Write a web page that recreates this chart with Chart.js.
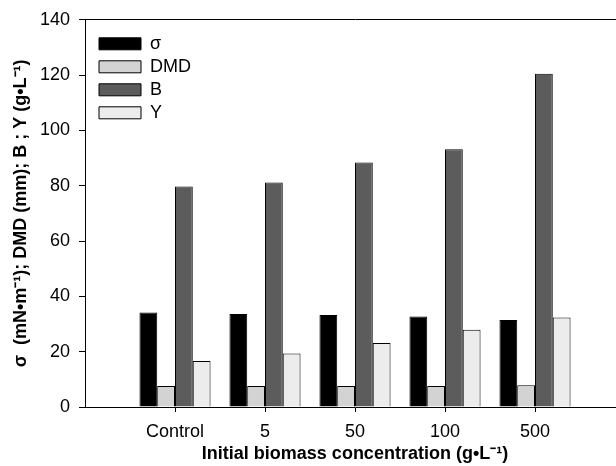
<!DOCTYPE html>
<html>
<head>
<meta charset="utf-8">
<script src="https://cdn.jsdelivr.net/npm/chart.js@4.4.1/dist/chart.umd.min.js"></script>
<style>
    body { margin: 0; background: #fff; }
    #wrap { width: 616px; height: 466px; overflow: hidden; }
</style>
</head>
<body>
<div id="wrap"><canvas id="grafico" width="640" height="466"></canvas></div>
<script>
var categorias = ['Control', '5', '50', '100', '500'];

var sigma = [34.2, 33.6, 33.3, 32.7, 31.5];
var dmd = [7.6, 7.6, 7.6, 7.6, 7.9];
var biomassa = [79.7, 81.2, 88.4, 93.2, 120.5];
var rendimento = [16.6, 19.3, 23.1, 27.9, 32.4];

var yMin = 0;
var yMax = 140;
var yPasso = 20;

// uma posicao vazia em cada ponta, o eixo passa do ultimo grupo
var rotulos = [''].concat(categorias, ['']);
function comVazios(valores) {
    return [null].concat(valores, [null]);
}

Chart.defaults.font.family = "'Liberation Sans', Arial, sans-serif";
Chart.defaults.color = '#000';

// empurra a legenda para dentro da area do grafico
var moveLegenda = {
    id: 'moveLegenda',
    afterLayout: function (chart) {
        var leg = chart.legend;
        var dx = chart.chartArea.left + 9 - leg.left;
        var dy = chart.chartArea.top + 10 - leg.top;
        leg.left += dx;
        leg.right += dx;
        leg.top += dy;
        leg.bottom += dy;
    }
};

var grafico = new Chart(document.getElementById('grafico'), {
    type: 'bar',
    data: {
        labels: rotulos,
        datasets: [{
            label: 'σ',
            data: comVazios(sigma),
            backgroundColor: '#000000',
            borderColor: '#000000',
            borderWidth: 1
        }, {
            label: 'DMD',
            data: comVazios(dmd),
            backgroundColor: '#d3d3d3',
            borderColor: '#000000',
            borderWidth: 1
        }, {
            label: 'B',
            data: comVazios(biomassa),
            backgroundColor: '#5c5c5c',
            borderColor: '#000000',
            borderWidth: 1
        }, {
            label: 'Y',
            data: comVazios(rendimento),
            backgroundColor: '#ececec',
            borderColor: '#000000',
            borderWidth: 1
        }]
    },
    options: {
        responsive: false,
        animation: false,
        categoryPercentage: 0.79,
        barPercentage: 1.0,
        layout: {
            padding: { left: 0, right: 15, top: 0, bottom: 0 }
        },
        scales: {
            x: {
                type: 'category',
                position: 'bottom',
                offset: false,
                grid: {
                    offset: false,
                    drawOnChartArea: false,
                    tickLength: 5,
                    tickColor: function (ctx) {
                        return ctx.tick && ctx.tick.label === '' ? 'rgba(0,0,0,0)' : '#000';
                    }
                },
                border: { color: '#000', width: 1 },
                ticks: {
                    autoSkip: false,
                    maxRotation: 0,
                    padding: 9,
                    font: { size: 18 }
                },
                title: {
                    display: true,
                    text: 'Initial biomass concentration (g•L⁻¹)',
                    font: { size: 18, weight: 'bold' },
                    padding: { top: 0, bottom: 1 }
                },
                afterFit: function (scale) {
                    scale.height = 59;
                }
            },
            x2: {
                type: 'category',
                position: 'top',
                offset: false,
                grid: {
                    offset: false,
                    drawOnChartArea: false,
                    drawTicks: false
                },
                border: { display: true, color: '#000', width: 1 },
                ticks: { display: false },
                afterFit: function (scale) {
                    scale.height = 17;
                }
            },
            y: {
                min: yMin,
                max: yMax,
                grid: {
                    drawOnChartArea: false,
                    tickLength: 6,
                    tickColor: '#000'
                },
                border: { color: '#000', width: 1 },
                ticks: {
                    stepSize: yPasso,
                    padding: 9,
                    font: { size: 18 }
                },
                title: {
                    display: true,
                    text: 'σ  (mN•m⁻¹); DMD (mm); B ; Y (g•L⁻¹)',
                    font: { size: 18, weight: 'bold' },
                    padding: { top: 10, bottom: 0 }
                },
                afterFit: function (scale) {
                    scale.width = 85;
                }
            }
        },
        plugins: {
            legend: {
                position: 'chartArea',
                align: 'start',
                labels: {
                    boxWidth: 42,
                    boxHeight: 12,
                    padding: 5,
                    color: '#000',
                    font: { size: 18, lineHeight: 1 }
                }
            },
            tooltip: { enabled: false }
        }
    },
    plugins: [moveLegenda]
});
</script>
</body>
</html>
